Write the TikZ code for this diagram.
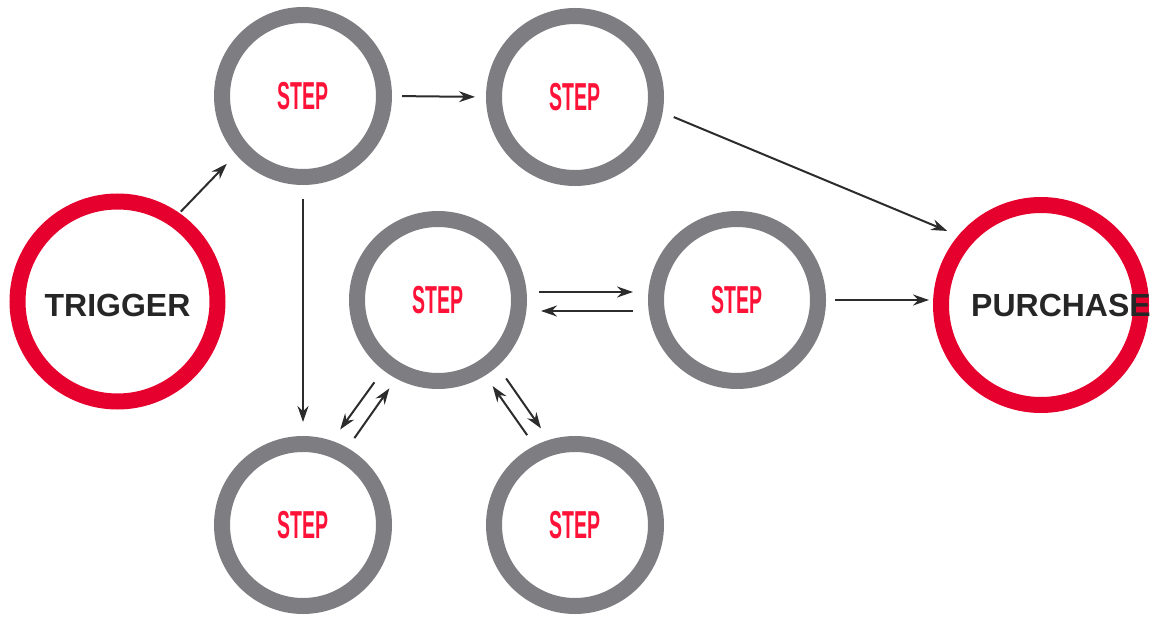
\documentclass[tikz,border=0pt]{standalone}
\usepackage{fontspec}
\setmainfont{Liberation Sans}
\newfontfamily\stepfont[FakeStretch=0.5]{Liberation Sans}
\usetikzlibrary{arrows.meta}

\definecolor{ringred}{HTML}{E6002E}
\definecolor{ringgray}{HTML}{7E7D82}
\definecolor{stepred}{HTML}{FF1238}
\definecolor{darktext}{HTML}{262626}
\definecolor{arrowgray}{HTML}{2C2C2C}

\begin{document}
\begin{tikzpicture}[
    x=1pt, y=-1pt,
    stepnode/.style={
        circle,
        draw=ringgray,
        line width=16pt,
        minimum size=162pt,
        inner sep=0pt,
        text=stepred,
        font=\stepfont\bfseries\fontsize{39}{39}\selectfont
    },
    endnode/.style={
        circle,
        draw=ringred,
        line width=16pt,
        minimum size=200pt,
        inner sep=0pt
    },
    endlabel/.style={
        text=darktext,
        font=\bfseries\fontsize{32}{32}\selectfont
    },
    arrow/.style={
        -{Stealth[length=16pt, width=11pt]},
        line width=2pt,
        draw=arrowgray
    }
]
\useasboundingbox (0,0) rectangle (1153,617);

% Nodi
\node[endnode, label={[endlabel, yshift=-4pt]center:TRIGGER}] (trigger) at (117.5,301.5) {};
\node[endnode, label={[endlabel, xshift=20pt]center:PURCHASE}] (purchase) at (1041,305) {};

\node[stepnode] (s1) at (303,96) {STEP};
\node[stepnode] (s2) at (575,97) {STEP};
\node[stepnode] (s3) at (438,300) {STEP};
\node[stepnode] (s4) at (737,300) {STEP};
\node[stepnode] (s5) at (303,525) {STEP};
\node[stepnode] (s6) at (575,525) {STEP};

% Frecce
\draw[arrow, shorten <=2pt, shorten >=13pt] (trigger.55) -- (s1.221);
\draw[arrow, shorten <=10pt, shorten >=11pt] (s1.east) -- (s2.west);
\draw[arrow, shorten <=12pt, shorten >=12pt] (s2.-10) -- (purchase.140);
\draw[arrow, shorten <=14pt, shorten >=14pt] (s1.south) -- (s5.north);

\draw[arrow, shorten <=12pt, shorten >=15pt] ([yshift=8pt]s3.east) -- ([yshift=8pt]s4.west);
\draw[arrow, shorten <=15pt, shorten >=14pt] ([yshift=-11pt]s4.west) -- ([yshift=-11pt]s3.east);
\draw[arrow, shorten <=9pt, shorten >=4pt] (s4.east) -- (s4.east -| purchase.west);

\draw[arrow, shorten <=15pt, shorten >=14pt] (s3.232) -- (s5.71);
\draw[arrow, shorten <=12pt, shorten >=12pt] (s5.60) -- (s3.242);
\draw[arrow, shorten <=15pt, shorten >=14pt] (s3.-48) -- (s6.107);
\draw[arrow, shorten <=13pt, shorten >=13pt] (s6.117) -- (s3.-58);

\end{tikzpicture}
\end{document}
